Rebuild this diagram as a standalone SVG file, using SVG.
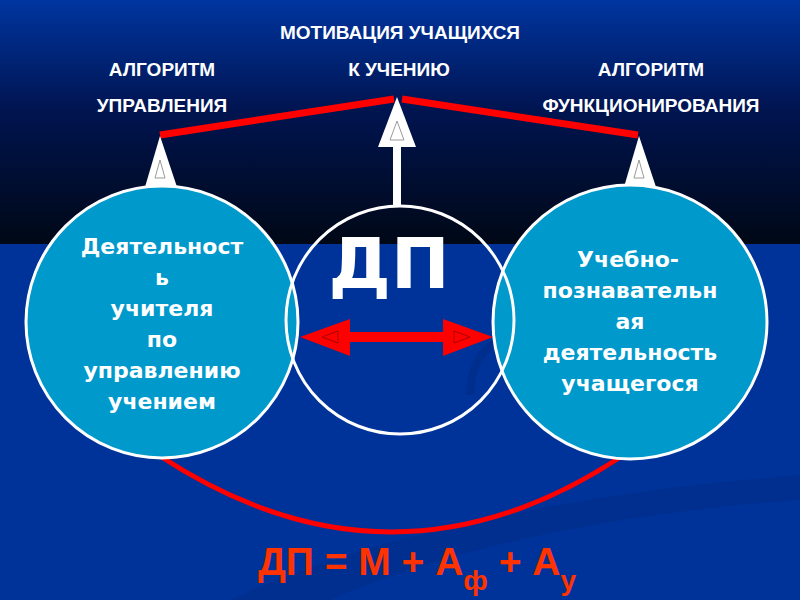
<svg xmlns="http://www.w3.org/2000/svg" width="800" height="600" viewBox="0 0 800 600">
<defs>
<linearGradient id="sky" x1="0" y1="0" x2="0" y2="1">
<stop offset="0" stop-color="#0035a0"/>
<stop offset="0.45" stop-color="#001450"/>
<stop offset="1" stop-color="#000816"/>
</linearGradient>
<style>
.hdr{font-family:"Liberation Sans",Arial,sans-serif;font-weight:bold;font-size:19px;fill:#fff;text-anchor:middle}
.ctext{font-family:"DejaVu Sans","Noto Sans",sans-serif;font-weight:bold;font-size:22px;fill:#fff;text-anchor:middle}
.side{fill:#0099cc;stroke:#fff;stroke-width:3}
.mid{fill:none;stroke:#fff;stroke-width:3}
.tri{fill:#fff}
.inner{fill:none;stroke:#9a9a9a;stroke-width:1}
.red{fill:none;stroke:#ff0000;stroke-width:7}
.formula{font-family:"Liberation Sans",Arial,sans-serif;font-weight:bold;fill:#ff3300}
</style>
</defs>
<rect x="0" y="0" width="800" height="600" fill="#003399"/>
<rect x="0" y="0" width="800" height="244" fill="url(#sky)"/>
<path d="M230,600 C380,530 600,490 800,475 L800,500 C620,512 440,550 330,600 Z" fill="#002d88" opacity="0.6"/>
<path d="M470,395 C470,370 480,350 500,340" fill="none" stroke="#002a80" stroke-width="8" opacity="0.5"/>
<g id="header">
<text class="hdr" x="400" y="39">МОТИВАЦИЯ УЧАЩИХСЯ</text>
<text class="hdr" x="399" y="76">К УЧЕНИЮ</text>
<text class="hdr" x="162" y="76">АЛГОРИТМ</text>
<text class="hdr" x="162" y="112">УПРАВЛЕНИЯ</text>
<text class="hdr" x="651" y="76">АЛГОРИТМ</text>
<text class="hdr" x="651" y="112">ФУНКЦИОНИРОВАНИЯ</text>
</g>
<g id="connectors">
<path class="red" d="M160,135 L394,99"/>
<path class="red" d="M402,99 L638,135"/>
<path d="M160,456 Q392,608 622,456" fill="none" stroke="#ff0000" stroke-width="5"/>
<polygon class="tri" points="160,136 145,187 177,187"/>
<polygon class="inner" points="160,160 155,178 165,178"/>
<polygon class="tri" points="639,136 624,187 656,187"/>
<polygon class="inner" points="639,160 634,178 644,178"/>
<polygon class="tri" points="397,97 378,147 416,147"/>
<polygon class="inner" points="397,121 390,140 404,140"/>
<rect x="393" y="146" width="8" height="60" fill="#fff"/>
</g>
<g id="node-left">
<circle class="side" cx="162" cy="322" r="136"/>
<text class="ctext" x="162" y="254">Деятельност</text>
<text class="ctext" x="162" y="285">ь</text>
<text class="ctext" x="162" y="316">учителя</text>
<text class="ctext" x="162" y="347">по</text>
<text class="ctext" x="162" y="378">управлению</text>
<text class="ctext" x="162" y="409">учением</text>
</g>
<g id="node-right">
<circle class="side" cx="630" cy="322" r="137"/>
<text class="ctext" x="628" y="267">Учебно-</text>
<text class="ctext" x="630" y="298">познавательн</text>
<text class="ctext" x="630" y="329">ая</text>
<text class="ctext" x="630" y="360">деятельность</text>
<text class="ctext" x="630" y="391">учащегося</text>
</g>
<g id="node-center">
<circle class="mid" cx="400" cy="320" r="114"/>
<text x="389" y="288" font-family="DejaVu Sans,sans-serif" font-weight="bold" font-size="70" fill="#fff" text-anchor="middle">ДП</text>
</g>
<g id="double-arrow">
<polygon fill="#ff0000" points="300,337 350,319 350,332 443,332 443,319 493,337 443,356 443,342 350,342 350,356"/>
<polygon fill="none" stroke="#aa0000" stroke-width="1" points="322,337 338,331 338,343"/>
<polygon fill="none" stroke="#aa0000" stroke-width="1" points="470,337 454,331 454,343"/>
</g>
<g id="formula">
<text class="formula" x="258" y="575" font-size="39">ДП = М + А<tspan font-size="28" dy="15">ф</tspan><tspan dy="-15"> + А</tspan><tspan font-size="28" dy="15">у</tspan></text>
</g>
</svg>
